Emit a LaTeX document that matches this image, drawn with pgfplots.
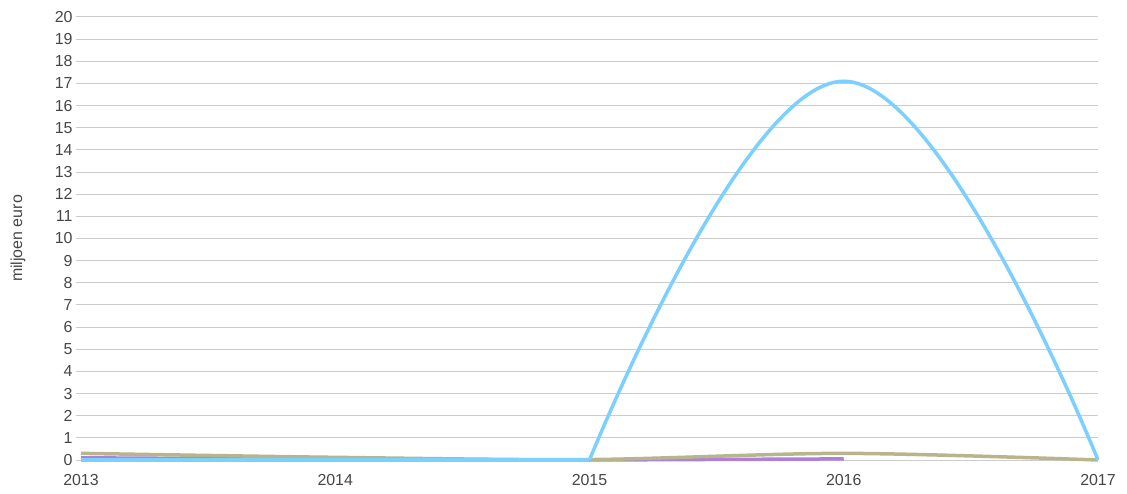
\documentclass[border=0pt]{standalone}
\usepackage{fontspec}
\setmainfont{Liberation Sans}
\usepackage{pgfplots}
\pgfplotsset{compat=1.18}
\definecolor{cblue}{RGB}{124,208,255}
\definecolor{ctan}{RGB}{184,180,140}
\definecolor{cpurple}{RGB}{172,128,220}
\definecolor{cgrid}{RGB}{204,204,204}
\definecolor{ctext}{RGB}{70,70,70}
\begin{document}
\begin{tikzpicture}
\useasboundingbox (-81bp,-34bp) rectangle (1046bp,460bp);
\begin{axis}[
  at={(0,0)}, anchor=south west,
  scale only axis,
  width=1017bp, height=443bp,
  xmin=2013, xmax=2017, ymin=0, ymax=20,
  xtick={2013,2014,2015,2016,2017},
  ytick={0,1,...,20},
  axis line style={draw=none},
  ymajorgrids, grid style={cgrid, line width=1bp},
  ytick style={cgrid, line width=1bp},
  xtick style={draw=none},
  major tick length=5bp,
  tick align=outside,
  ytick pos=left, xtick pos=bottom,
  /pgf/number format/assume math mode=true,
  xticklabel style={/pgf/number format/1000 sep={}, font=\fontsize{16}{18}\selectfont, text=ctext, yshift=-6bp},
  yticklabel style={font=\fontsize{16}{18}\selectfont, text=ctext},
  ylabel={miljoen euro},
  ylabel style={at={(axis description cs:-0.062,0.5)}, anchor=center, font=\fontsize{16}{18}\selectfont, text=ctext},
  clip=false,
]
\addplot[cpurple, line width=3.5bp] coordinates {(2013,0.1) (2014,0.03) (2015,0) (2016,0.05)};
\addplot[ctan, line width=3.5bp, smooth] coordinates {(2013,0.3) (2014,0.12) (2015,0.02) (2016,0.3) (2017,0)};
\addplot[cblue, line width=3.5bp] coordinates {(2013,0) (2014,0) (2015,0)};
\addplot[cblue, line width=3.5bp, smooth, tension=0.72] coordinates {(2015,0) (2016,17.1) (2017,0)};
\end{axis}
\end{tikzpicture}
\end{document}
